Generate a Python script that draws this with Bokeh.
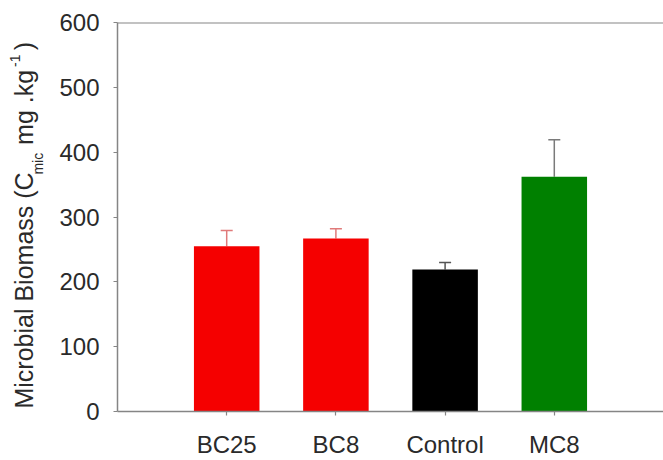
import math
from bokeh.plotting import figure
from bokeh.layouts import row
from bokeh.models import Range1d, FixedTicker, Span
from bokeh.core.properties import value
from bokeh.embed import file_html
from bokeh.resources import INLINE

# Microbial biomass per treatment (mean and upper error)
treatments = ["BC25", "BC8", "Control", "MC8"]
biomass = [255, 267, 219, 362]
error = [24, 15, 11, 57]
bar_colors = ["#f50000", "#f50000", "#000000", "#008000"]
err_colors = ["#e07a7a", "#e07a7a", "#555555", "#7a7a7a"]
y_ticks = [0, 100, 200, 300, 400, 500, 600]

FONT = "Liberation Sans"
TEXT = "#2a2a2a"
AXIS = "#858585"

H = 460
TITLE_W = 50
MAIN_W = 613
LEFT, TOP, BOTTOM = 67, 22, 44

# ---- main chart ----
p = figure(width=MAIN_W, height=H, output_backend="svg", toolbar_location=None,
           x_range=Range1d(0, 5), y_range=Range1d(0, 600),
           min_border_left=LEFT, min_border_right=0,
           min_border_top=TOP, min_border_bottom=BOTTOM)
p.outline_line_color = None
p.grid.visible = False
p.background_fill_color = "white"
p.border_fill_color = "white"

xs = list(range(1, len(treatments) + 1))
tops = [b + e for b, e in zip(biomass, error)]

# error bars (upper half only, drawn behind the bars)
p.segment(x0=xs, y0=biomass, x1=xs, y1=tops, line_color=err_colors, line_width=1.5)
cap = 0.11
p.segment(x0=[x - cap / 2 for x in xs], y0=tops, x1=[x + cap / 2 for x in xs], y1=tops,
          line_color=err_colors, line_width=1.5)

p.vbar(x=xs, top=biomass, bottom=0, width=0.6, fill_color=bar_colors, line_color=None)

xa = p.xaxis[0]
xa.ticker = FixedTicker(ticks=xs)
xa.major_label_overrides = {x: t for x, t in zip(xs, treatments)}
ya = p.yaxis[0]
ya.ticker = FixedTicker(ticks=y_ticks)
for ax in (xa, ya):
    ax.axis_line_color = AXIS
    ax.axis_line_width = 1.5
    ax.major_tick_line_color = AXIS
    ax.major_tick_line_width = 1.2
    ax.major_tick_out = 4
    ax.major_tick_in = 0
    ax.minor_tick_line_color = None
    ax.major_label_text_font = FONT
    ax.major_label_text_font_size = "24px"
    ax.major_label_text_color = TEXT
xa.major_label_standoff = 15
ya.major_label_standoff = 14

# top frame line
p.add_layout(Span(location=600, dimension="width", line_color=AXIS, line_width=2))

# ---- y-axis title strip (rotated text with subscript / superscript) ----
# the strip's frame is aligned with the chart frame, so its y range is set
# to canvas pixels measured from the bottom of the page
t = figure(width=TITLE_W, height=H, output_backend="svg", toolbar_location=None,
           x_range=Range1d(0, TITLE_W), y_range=Range1d(BOTTOM, H - TOP),
           min_border_left=0, min_border_right=0,
           min_border_top=TOP, min_border_bottom=BOTTOM)
t.axis.visible = False
t.grid.visible = False
t.outline_line_color = None
t.background_fill_color = "white"
t.border_fill_color = "white"

# (text, size, centre x, start y measured from the top)
pieces = [
    ("Microbial Biomass (C", "25px", 23, 413),
    ("mic", "14px", 37, 176),
    ("mg .kg", "25px", 23, 146),
    ("-1", "14px", 14, 67),
    (")", "25px", 23, 50),
]
for txt, size, cx, py in pieces:
    t.text(x=[cx], y=[H - py], text=[txt], angle=math.pi / 2,
           text_font=value(FONT), text_font_size=value(size), text_color=TEXT,
           text_align="left", text_baseline="middle")

layout = row(t, p, spacing=0)
open("out.html", "w").write(file_html(layout, INLINE))
